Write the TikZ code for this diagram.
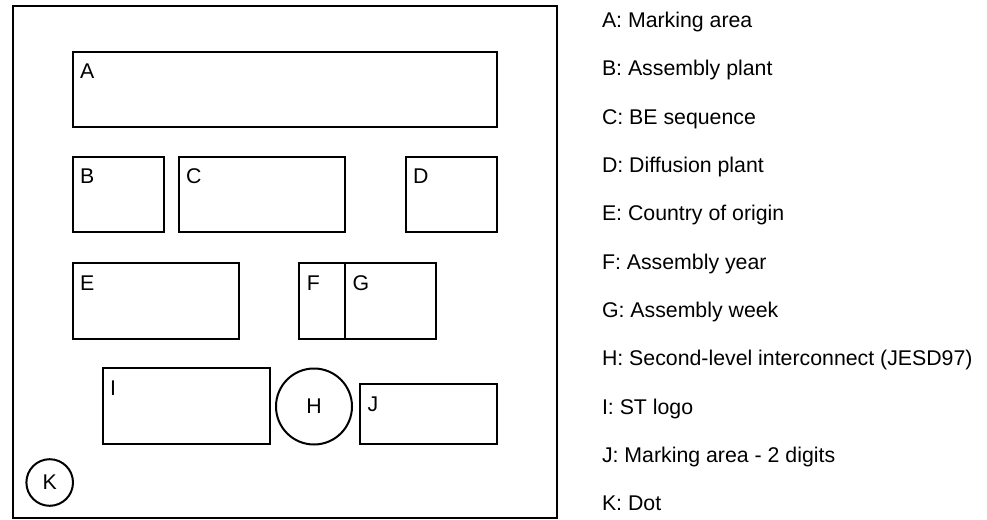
\documentclass[tikz,border=0pt]{standalone}
\usepackage{fontspec}
\setmainfont{Liberation Sans}
\begin{document}
\begin{tikzpicture}[x=1pt,y=-1pt,
  box/.style={draw=black, line width=2pt, rectangle, inner sep=0pt, outer sep=0pt, anchor=north west},
  ring/.style={draw=black, line width=2pt, circle, inner sep=0pt, outer sep=0pt, font=\fontsize{21.3}{25}\selectfont},
  tag/.style={inner sep=0pt, outer sep=0pt, anchor=base west, font=\fontsize{21.3}{25}\selectfont},
  legend/.style={inner sep=0pt, outer sep=0pt, anchor=base west, font=\fontsize{21.3}{25}\selectfont}]
\useasboundingbox (0,0) rectangle (987,519);
% frame
\node[box, minimum width=544pt, minimum height=512pt] (frame) at (12.7,5.6) {};
% boxes
\node[box, minimum width=424pt, minimum height=75pt] (A) at (72.7,51.7) {};
\node[box, minimum width=91pt, minimum height=75.6pt] (B) at (72.7,156.7) {};
\node[box, minimum width=166.3pt, minimum height=75.6pt] (C) at (178.7,156.7) {};
\node[box, minimum width=91pt, minimum height=75.6pt] (D) at (405.7,156.7) {};
\node[box, minimum width=166.6pt, minimum height=75.2pt] (E) at (72.7,263.3) {};
\node[box, minimum width=45.7pt, minimum height=75.2pt] (F) at (299.3,263.3) {};
\node[box, minimum width=91pt, minimum height=75.2pt] (G) at (345,263.3) {};
\node[box, minimum width=167.3pt, minimum height=75.7pt] (I) at (102.7,368.3) {};
\node[box, minimum width=136.7pt, minimum height=60pt] (J) at (360,384) {};
\node[ring, minimum size=76pt] (H) at (314,406.5) {H};
\node[ring, minimum size=46.6pt] (K) at (49.7,482.5) {K};
% box tags
\foreach \n in {A,B,C,D,E,F,G,I,J}{
  \node[tag] (t\n) at ([xshift=7.5pt,yshift=-27pt]\n.north west) {\n};
}
% legend
\node[legend] (l1) at (602,27.3) {A: Marking area};
\node[legend] (l2) at (602,75.6) {B: Assembly plant};
\node[legend] (l3) at (602,124.0) {C: BE sequence};
\node[legend] (l4) at (602,172.3) {D: Diffusion plant};
\node[legend] (l5) at (602,220.6) {E: Country of origin};
\node[legend] (l6) at (602,269.0) {F: Assembly year};
\node[legend] (l7) at (602,317.3) {G: Assembly week};
\node[legend] (l8) at (602,365.6) {H: Second-level interconnect (JESD97)};
\node[legend] (l9) at (602,414.0) {I: ST logo};
\node[legend] (l10) at (602,462.3) {J: Marking area - 2 digits};
\node[legend] (l11) at (602,510.6) {K: Dot};
\end{tikzpicture}
\end{document}
